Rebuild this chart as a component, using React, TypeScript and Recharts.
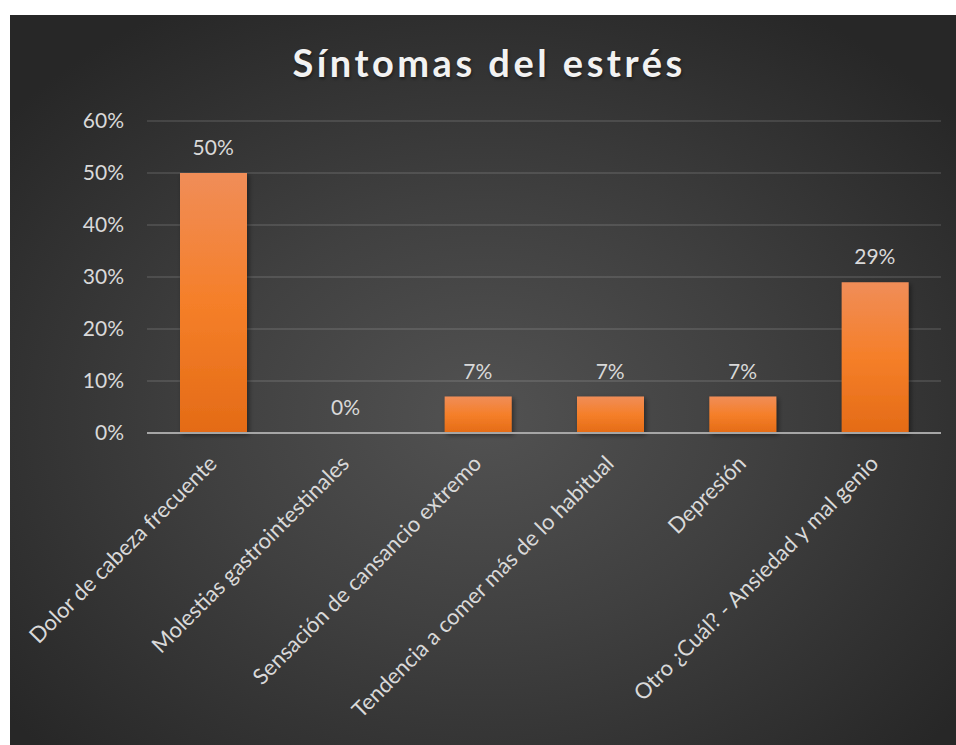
import { ComposedChart, Bar, Line, XAxis, YAxis, CartesianGrid, LabelList } from 'recharts';

const categories = [
  'Dolor de cabeza frecuente',
  'Molestias gastrointestinales',
  'Sensación de cansancio extremo',
  'Tendencia a comer más de lo habitual',
  'Depresión',
  'Otro ¿Cuál? - Ansiedad y mal genio',
];
const shares = [0.5, 0, 0.07, 0.07, 0.07, 0.29];
const yTicks = [0, 0.1, 0.2, 0.3, 0.4, 0.5, 0.6];

const data = categories.map((name, i) => ({ name, value: shares[i] }));

const FONT = 'Lato, "Open Sans", sans-serif';
const LABEL = '#d9d9d9';
const pct = (v: number) => `${Math.round(v * 100)}%`;

function CategoryTick(props: any) {
  const { x, y, payload } = props;
  const ax = x + 5;
  const ay = y + 32;
  return (
    <text
      x={ax}
      y={ay}
      transform={`rotate(-45, ${ax}, ${ay})`}
      textAnchor="end"
      fill={LABEL}
      fontSize={22}
      fontFamily={FONT}
    >
      {payload.value}
    </text>
  );
}

export default function App() {
  return (
    <div
      style={{
        position: 'absolute',
        left: 10,
        top: 15,
        width: 946,
        height: 730,
        background: 'radial-gradient(ellipse 65% 65% at 50% 55%, #525252 0%, #404040 45%, #272727 100%)',
        fontFamily: FONT,
      }}
    >
      <div
        style={{
          position: 'absolute',
          left: 0,
          width: 958,
          top: 24,
          textAlign: 'center',
          color: '#f2f2f2',
          fontSize: 38,
          fontWeight: 700,
          letterSpacing: 3.5,
          textShadow: '1px 2px 3px rgba(0,0,0,0.4)',
        }}
      >
        Síntomas del estrés
      </div>
      <ComposedChart
        width={946}
        height={730}
        data={data}
        margin={{ top: 106, right: 15, bottom: 0, left: 0 }}
        style={{ position: 'absolute', left: 0, top: 0 }}
      >
        <defs>
          <linearGradient id="barFill" x1="0" y1="0" x2="0" y2="1">
            <stop offset="0%" stopColor="#f08d58" />
            <stop offset="50%" stopColor="#f57f29" />
            <stop offset="100%" stopColor="#e46b16" />
          </linearGradient>
          <filter id="barShadow" x="-20%" y="-20%" width="150%" height="150%">
            <feDropShadow dx="2" dy="2" stdDeviation="2.5" floodColor="#000" floodOpacity="0.45" />
          </filter>
        </defs>
        <CartesianGrid vertical={false} stroke="rgba(255,255,255,0.11)" strokeWidth={2} />
        <YAxis
          width={137}
          domain={[0, 0.6]}
          ticks={yTicks}
          tickFormatter={pct}
          axisLine={false}
          tickLine={false}
          tickSize={0}
          tickMargin={23}
          tick={{ fill: LABEL, fontSize: 21, fontFamily: FONT }}
        />
        <Bar
          dataKey="value"
          fill="url(#barFill)"
          barSize={67}
          filter="url(#barShadow)"
          isAnimationActive={false}
        />
        {/* invisible series that carries the value labels, so the 0% one shows too */}
        <Line
          dataKey="value"
          stroke="none"
          dot={false}
          activeDot={false}
          isAnimationActive={false}
        >
          <LabelList
            dataKey="value"
            position="top"
            offset={18}
            formatter={(v: any) => pct(Number(v))}
            fill={LABEL}
            fontSize={21}
            fontFamily={FONT}
          />
        </Line>
        <XAxis
          dataKey="name"
          height={312}
          interval={0}
          axisLine={{ stroke: '#a6a6a6', strokeWidth: 2 }}
          tickLine={false}
          tickSize={0}
          tickMargin={0}
          tick={<CategoryTick />}
        />
      </ComposedChart>
    </div>
  );
}
